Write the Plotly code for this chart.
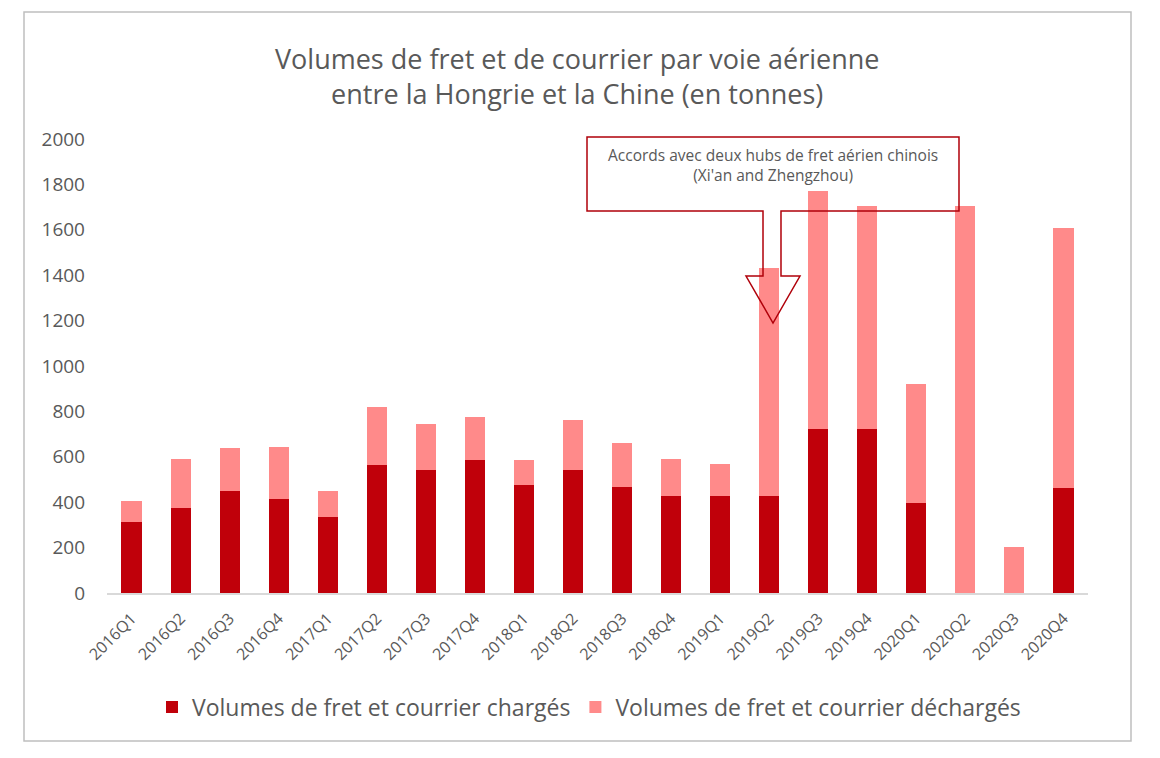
import plotly.graph_objects as go

quarters = ["2016Q1", "2016Q2", "2016Q3", "2016Q4", "2017Q1", "2017Q2", "2017Q3", "2017Q4",
            "2018Q1", "2018Q2", "2018Q3", "2018Q4", "2019Q1", "2019Q2", "2019Q3", "2019Q4",
            "2020Q1", "2020Q2", "2020Q3", "2020Q4"]
charges = [313, 374, 449, 414, 335, 564, 542, 586, 476, 542, 467, 427, 427, 427, 722, 722, 396, 0, 0, 463]
decharges = [92, 216, 190, 229, 114, 255, 202, 189, 110, 220, 194, 163, 141, 1005, 1051, 981, 525, 1705, 203, 1145]

DARK = "#C0000A"
LIGHT = "#FF8A8A"
GREY = "#595959"
FONT = "Open Sans"

fig = go.Figure()
fig.add_trace(go.Bar(x=quarters, y=charges, name="Volumes de fret et courrier chargés",
                     marker=dict(color=DARK, line=dict(width=0))))
fig.add_trace(go.Bar(x=quarters, y=decharges, name="Volumes de fret et courrier déchargés",
                     marker=dict(color=LIGHT, line=dict(width=0))))

OFF = 8  # page body margin
W, H = 1144, 742
L, R, T, B = 107 - OFF, 1088 - OFF, 139 - OFF, 593 - OFF


def px(x):  # page pixel -> paper
    return (x - OFF - L) / (R - L)


def py(y):
    return (B - (y - OFF)) / (B - T)


# outer border
fig.add_shape(type="rect", xref="paper", yref="paper", x0=px(24), x1=px(1131), y0=py(12), y1=py(741),
              line=dict(color="#BFBFBF", width=1.5), fillcolor="rgba(0,0,0,0)", layer="below")

# callout box with arrow
pts = [(587, 137), (959, 137), (959, 211), (781, 211), (781, 276), (800, 276), (773, 323),
       (746, 276), (763, 276), (763, 211), (587, 211)]
path = "M " + " L ".join(f"{px(x):.5f},{py(y):.5f}" for x, y in pts) + " Z"
fig.add_shape(type="path", xref="paper", yref="paper", path=path,
              line=dict(color="#B0000A", width=1.5), fillcolor="rgba(0,0,0,0)", layer="above")
fig.add_annotation(xref="paper", yref="paper", x=px(773), y=py(165), xanchor="center", yanchor="middle",
                   text="Accords avec deux hubs de fret aérien chinois<br>(Xi'an and Zhengzhou)",
                   showarrow=False, font=dict(family=FONT, size=15.5, color=GREY), align="center")

# title
fig.add_annotation(xref="paper", yref="paper", x=px(577), y=py(76), xanchor="center", yanchor="middle",
                   text="Volumes de fret et de courrier par voie aérienne<br>entre la Hongrie et la Chine (en tonnes)",
                   showarrow=False, font=dict(family=FONT, size=27, color=GREY), align="center")

fig.update_layout(
    width=W, height=H,
    barmode="stack", bargap=0.59,
    paper_bgcolor="white", plot_bgcolor="white",
    margin=dict(l=L, r=W - R, t=T, b=H - B),
    font=dict(family=FONT, color=GREY),
    xaxis=dict(showgrid=False, showline=True, linecolor="#D9D9D9", linewidth=2, ticks="",
               tickangle=-45, tickfont=dict(family=FONT, size=16, color=GREY), ticklabelstandoff=8),
    yaxis=dict(range=[0, 2000], dtick=200, showgrid=False, showline=False, zeroline=False, ticks="",
               tickfont=dict(family=FONT, size=19, color=GREY), ticklabelstandoff=21),
    legend=dict(orientation="h", x=px(589), xanchor="center", y=py(707), yanchor="middle",
                font=dict(family=FONT, size=23, color=GREY), traceorder="normal", itemwidth=30),
    showlegend=True,
)

fig.write_html("out.html")
